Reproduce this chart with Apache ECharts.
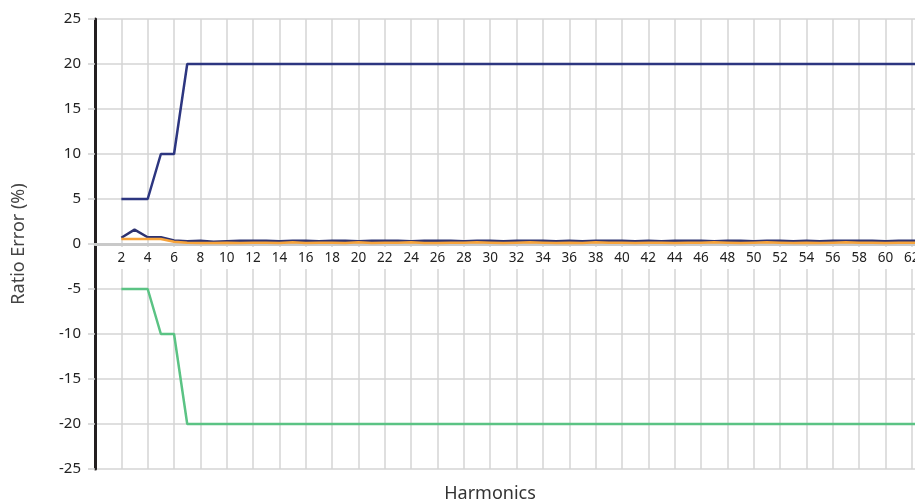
<!DOCTYPE html>
<html>
<head>
<meta charset="utf-8">
<script src="https://cdn.jsdelivr.net/npm/echarts@6/dist/echarts.min.js"></script>
<style>html,body{margin:0;padding:0;background:#fff;}#c{width:915px;height:502px;}</style>
</head>
<body>
<div id="c"></div>
<script>
const harmonics = [];
for (let h = 2; h <= 63; h++) harmonics.push(h);
const upperLimit = [5,5,5,10,10,20,20,20,20,20, 20,20,20,20,20,20,20,20,20,20, 20,20,20,20,20,20,20,20,20,20, 20,20,20,20,20,20,20,20,20,20, 20,20,20,20,20,20,20,20,20,20, 20,20,20,20,20,20,20,20,20,20, 20,20];
const lowerLimit = [-5,-5,-5,-10,-10,-20,-20,-20,-20,-20, -20,-20,-20,-20,-20,-20,-20,-20,-20,-20, -20,-20,-20,-20,-20,-20,-20,-20,-20,-20, -20,-20,-20,-20,-20,-20,-20,-20,-20,-20, -20,-20,-20,-20,-20,-20,-20,-20,-20,-20, -20,-20,-20,-20,-20,-20,-20,-20,-20,-20, -20,-20];
const measuredA = [0.7,1.6,0.75,0.75,0.4,0.3,0.35,0.25,0.3,0.35,
  0.35,0.35,0.3,0.35,0.35,0.3,0.35,0.35,0.3,0.35,
  0.35,0.35,0.3,0.35,0.35,0.35,0.3,0.35,0.35,0.3,
  0.35,0.35,0.35,0.3,0.35,0.3,0.35,0.35,0.35,0.3,
  0.35,0.3,0.35,0.35,0.35,0.3,0.35,0.35,0.3,0.35,
  0.35,0.3,0.35,0.3,0.35,0.35,0.35,0.35,0.3,0.35,
  0.35,0.35];
const measuredB = [0.55,0.55,0.55,0.55,0.25,0.15,0.1,0.1,0.15,0.1,
  0.15,0.15,0.1,0.2,0.1,0.15,0.15,0.1,0.2,0.1,
  0.15,0.15,0.2,0.1,0.1,0.15,0.15,0.2,0.15,0.1,
  0.15,0.2,0.15,0.1,0.15,0.1,0.2,0.15,0.15,0.1,
  0.15,0.15,0.1,0.15,0.15,0.2,0.15,0.1,0.15,0.2,
  0.15,0.1,0.15,0.1,0.15,0.2,0.15,0.15,0.1,0.15,
  0.15,0.15];
const yTicks = [-25,-20,-15,-10,-5,0,5,10,15,20,25];

const pair = arr => harmonics.map((h, i) => [h, arr[i]]);
const FONT = '"Noto Sans", sans-serif';
const chart = echarts.init(document.getElementById('c'), null, {renderer: 'canvas'});
const lineS = (name, arr, color, z) => ({
  type: 'line', name, data: pair(arr), symbol: 'none', silent: true, z,
  lineStyle: {color, width: 2.5}, animation: false
});
const GRID_TOP = 19, GRID_BOTTOM = 33, H = 502;
const plotH = H - GRID_TOP - GRID_BOTTOM;
const zeroOffset = -plotH * (0 - yTicks[0]) / (yTicks[yTicks.length - 1] - yTicks[0]);
chart.setOption({
  animation: false,
  grid: {left: 95, top: GRID_TOP, bottom: GRID_BOTTOM, width: 830, outerBoundsMode: 'none', containLabel: false},
  xAxis: {
    type: 'value', min: 0, max: 63, interval: 2, position: 'bottom', offset: zeroOffset,
    axisLine: {onZero: false, lineStyle: {color: '#c9c9c9', width: 3}},
    axisTick: {show: false},
    splitLine: {show: true, lineStyle: {color: '#d4d4d4', width: 1.5}},
    axisLabel: {
      fontFamily: FONT, fontSize: 13.5, color: '#222', margin: 3,
      backgroundColor: '#fff', padding: [4, 2, 4, 2],
      showMinLabel: false, showMaxLabel: false, hideOverlap: false,
      formatter: v => (v > 0 && v < 63) ? String(v) : ''
    }
  },
  yAxis: {
    type: 'value', min: yTicks[0], max: yTicks[yTicks.length - 1], interval: 5,
    name: 'Ratio Error (%)', nameLocation: 'middle', nameGap: 67, nameRotate: 90,
    nameTextStyle: {fontFamily: FONT, fontSize: 18, color: '#444'},
    axisLine: {show: true, onZero: false, lineStyle: {color: '#231f20', width: 3}},
    axisTick: {show: true, length: 7, lineStyle: {color: '#cfcfcf', width: 1.5}},
    splitLine: {show: true, lineStyle: {color: '#d4d4d4', width: 1.5}},
    axisLabel: {fontFamily: FONT, fontSize: 15, color: '#222', margin: 14,
      formatter: v => String(v)}
  },
  graphic: [{
    type: 'text', x: 490, y: 494,
    style: {text: 'Harmonics', font: '18px "Noto Sans", sans-serif', fill: '#333',
      align: 'center', verticalAlign: 'middle'}
  }],
  series: [
    lineS('Upper limit', upperLimit, '#2d3680', 3),
    lineS('Lower limit', lowerLimit, '#5bc384', 3),
    lineS('Measured A', measuredA, '#2d3270', 4),
    lineS('Measured B', measuredB, '#f7a33a', 5)
  ]
});
</script>
</body>
</html>
